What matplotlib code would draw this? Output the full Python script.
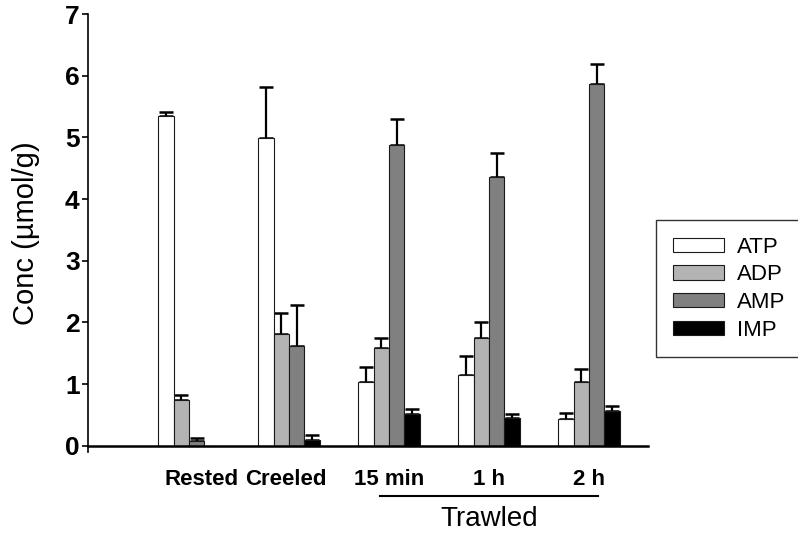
import matplotlib
matplotlib.use("Agg")
import matplotlib.pyplot as plt
import numpy as np

groups = ["Rested", "Creeled", "15 min", "1 h", "2 h"]
series = ["ATP", "ADP", "AMP", "IMP"]
atp = [5.35, 4.99, 1.03, 1.15, 0.43]
adp = [0.74, 1.81, 1.58, 1.74, 1.04]
amp = [0.08, 1.62, 4.88, 4.35, 5.87]
imp = [0.0, 0.09, 0.51, 0.45, 0.57]
atp_err = [0.06, 0.82, 0.24, 0.31, 0.11]
adp_err = [0.08, 0.35, 0.16, 0.26, 0.20]
amp_err = [0.04, 0.67, 0.42, 0.40, 0.32]
imp_err = [0.0, 0.08, 0.08, 0.06, 0.08]
colors = ["#ffffff", "#b3b3b3", "#808080", "#000000"]
yticks = [0, 1, 2, 3, 4, 5, 6, 7]

plt.rcParams['font.family'] = ['Liberation Sans', 'DejaVu Sans']

fig = plt.figure(figsize=(7.98, 5.33), dpi=100)
ax = fig.add_axes([88/798, (533-452)/533, (648-88)/798, (452-14)/533])

ax.spines["top"].set_visible(False)
ax.spines["right"].set_visible(False)
ax.spines["bottom"].set_position(("data", 0))
ax.spines["bottom"].set_linewidth(1.8)
ax.spines["left"].set_linewidth(1.2)

vals = [atp, adp, amp, imp]
errs = [atp_err, adp_err, amp_err, imp_err]
centers = np.arange(1, len(groups) + 1) + 0.01
w = 0.153
handles = []
for i, (v, e, c, name) in enumerate(zip(vals, errs, colors, series)):
    x = centers + (i - 1.5) * w
    b = ax.bar(x, v, width=w, color=c, edgecolor="#1a1a1a", linewidth=0.8,
               label=name, zorder=2)
    handles.append(b)
    xs = [xx for xx, vv, ee in zip(x, v, e) if ee > 0]
    ys = [vv for vv, ee in zip(v, e) if ee > 0]
    es = [ee for ee in e if ee > 0]
    ax.errorbar(xs, ys, yerr=[np.zeros(len(es)), es], fmt="none",
                ecolor="black", elinewidth=1.6, capsize=4.8, capthick=1.8, zorder=1)

ax.set_xlim(0, 5.6)
ax.set_ylim(-0.1, 7)
ax.spines["left"].set_bounds(-0.1, 7)
ax.tick_params(axis="y", direction="out", length=4, width=1.2, pad=2)
ax.tick_params(axis="x", length=0, pad=17)
ax.set_yticks(yticks)
ax.set_yticklabels([str(t) for t in yticks], fontsize=19, fontweight="bold")
label_x = centers + np.array([0.13, -0.03, 0.0, 0.0, 0.0])
ax.set_xticks(label_x)
ax.set_xticklabels(groups, fontsize=16, fontweight="bold")

ax.set_ylabel("Conc (µmol/g)", fontsize=21, labelpad=18)

fig.add_artist(plt.Line2D([380/798, 598/798], [1-496/533, 1-496/533],
                          transform=fig.transFigure, color="black", linewidth=1.5))
fig.text(489/798, 1-519/533, "Trawled", ha="center", va="center", fontsize=20)

leg = fig.legend(handles=handles, labels=series, loc="upper left",
                 bbox_to_anchor=(656/798, 1-220/533), fontsize=16,
                 frameon=True, fancybox=False, edgecolor="black",
                 handlelength=2.3, handleheight=0.6, labelspacing=0.3,
                 borderpad=0.75, handletextpad=0.6, borderaxespad=0)
leg.get_frame().set_linewidth(1.0)

fig.savefig("out.png", dpi=100)
